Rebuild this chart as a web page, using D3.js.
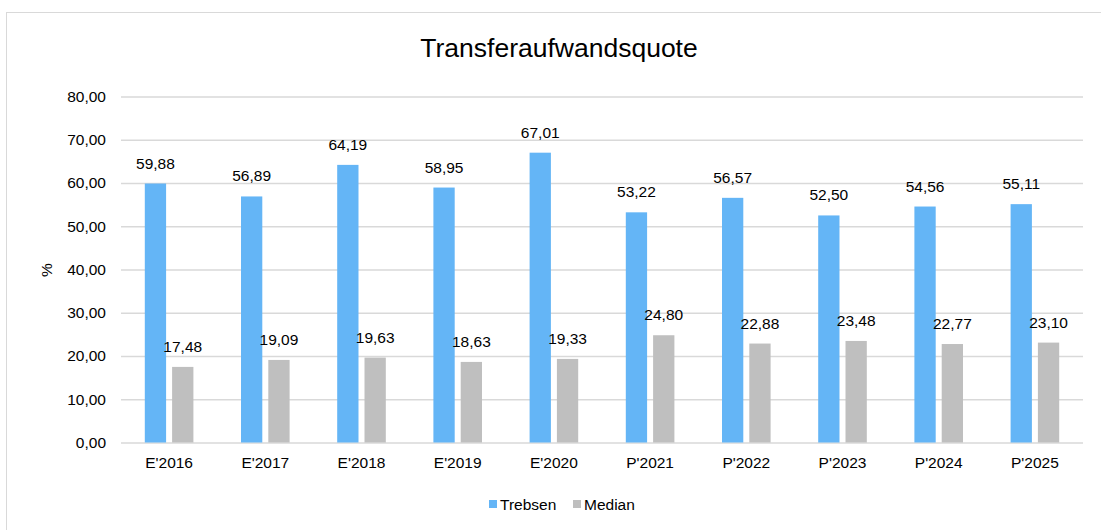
<!DOCTYPE html>
<html>
<head>
<meta charset="utf-8">
<script src="https://cdn.jsdelivr.net/npm/d3@7"></script>
<style>
  body { margin: 0; background: #fff; }
  text { font-family: "Liberation Sans", Arial, sans-serif; fill: #000; }
</style>
</head>
<body>
<div id="chart"></div>
<script>
// data
var categories = ["E'2016", "E'2017", "E'2018", "E'2019", "E'2020", "P'2021", "P'2022", "P'2023", "P'2024", "P'2025"];
var trebsen = [59.88, 56.89, 64.19, 58.95, 67.01, 53.22, 56.57, 52.50, 54.56, 55.11];
var median = [17.48, 19.09, 19.63, 18.63, 19.33, 24.80, 22.88, 23.48, 22.77, 23.10];
var seriesNames = ["Trebsen", "Median"];
var yTicks = [0, 10, 20, 30, 40, 50, 60, 70, 80];

var colors = {Trebsen: "#64b5f6", Median: "#bfbfbf"};
var W = 1101, H = 530;
var m = {left: 121, right: 1083, top: 96.5, bottom: 442.5};

var de = d3.formatLocale({decimal: ",", thousands: ".", grouping: [3], currency: ["", " €"]});
var fmt = de.format(".2f");

var rows = categories.map(function(c, i){
  return {cat: c, vals: [{s: "Trebsen", v: trebsen[i]}, {s: "Median", v: median[i]}]};
});

var svg = d3.select("#chart").append("svg")
  .attr("width", W).attr("height", H);

// chart frame (runs off the right and bottom edge)
svg.append("rect")
  .attr("x", 6.5).attr("y", 12.5)
  .attr("width", 1120).attr("height", 540)
  .attr("fill", "none").attr("stroke", "#d9d9d9").attr("stroke-width", 1);

var x = d3.scaleBand().domain(categories).range([m.left, m.right]).padding(0);
var y = d3.scaleLinear().domain([0, 80]).range([m.bottom, m.top]);

var grp = 2 * 21.3 + 6;
var x1 = d3.scaleBand().domain(seriesNames)
  .range([-grp / 2, grp / 2]).paddingInner(0.22).paddingOuter(0);

// gridlines
var yAxis = d3.axisLeft(y).tickValues(yTicks).tickFormat(fmt)
  .tickSize(-(m.right - m.left)).tickPadding(15);
var ga = svg.append("g").attr("transform", "translate(" + m.left + ",0)").call(yAxis);
ga.select(".domain").remove();
ga.selectAll(".tick line").attr("stroke", "#d9d9d9").attr("stroke-width", 1.5);
ga.selectAll(".tick text").style("font-size", "15.5px").attr("fill", "#000");

// x labels
var xAxis = d3.axisBottom(x).tickSize(0).tickPadding(14);
var gx = svg.append("g").attr("transform", "translate(0," + m.bottom + ")").call(xAxis);
gx.select(".domain").remove();
gx.selectAll(".tick text").style("font-size", "15.5px").attr("fill", "#000");

// bars
var groups = svg.selectAll(".grp").data(rows).enter().append("g")
  .attr("class", "grp")
  .attr("transform", function(d){ return "translate(" + (x(d.cat) + x.bandwidth() / 2) + ",0)"; });

groups.selectAll("rect").data(function(d){ return d.vals; }).enter().append("rect")
  .attr("x", function(d){ return x1(d.s); })
  .attr("width", x1.bandwidth())
  .attr("y", function(d){ return y(d.v); })
  .attr("height", function(d){ return y(0) - y(d.v); })
  .attr("fill", function(d){ return colors[d.s]; });

groups.selectAll("text").data(function(d){ return d.vals; }).enter().append("text")
  .attr("x", function(d){ return x1(d.s) + x1.bandwidth() / 2; })
  .attr("y", function(d){ return y(d.v) - 15; })
  .attr("text-anchor", "middle")
  .style("font-size", "15.5px")
  .text(function(d){ return fmt(d.v); });

// title
svg.append("text")
  .attr("x", 559).attr("y", 56.5)
  .attr("text-anchor", "middle")
  .style("font-size", "26.5px")
  .text("Transferaufwandsquote");

// y axis title
svg.append("text")
  .attr("transform", "translate(52,270) rotate(-90)")
  .attr("text-anchor", "middle")
  .style("font-size", "15.5px")
  .text("%");

// legend
var leg = svg.append("g").attr("transform", "translate(489,500)");
var items = leg.selectAll("g").data(seriesNames).enter().append("g")
  .attr("transform", function(d, i){ return "translate(" + (i * 84) + ",0)"; });
items.append("rect").attr("width", 8).attr("height", 8)
  .attr("fill", function(d){ return colors[d]; });
items.append("text").attr("x", 11).attr("y", 9.5)
  .style("font-size", "15.5px")
  .text(function(d){ return d; });
</script>
</body>
</html>
